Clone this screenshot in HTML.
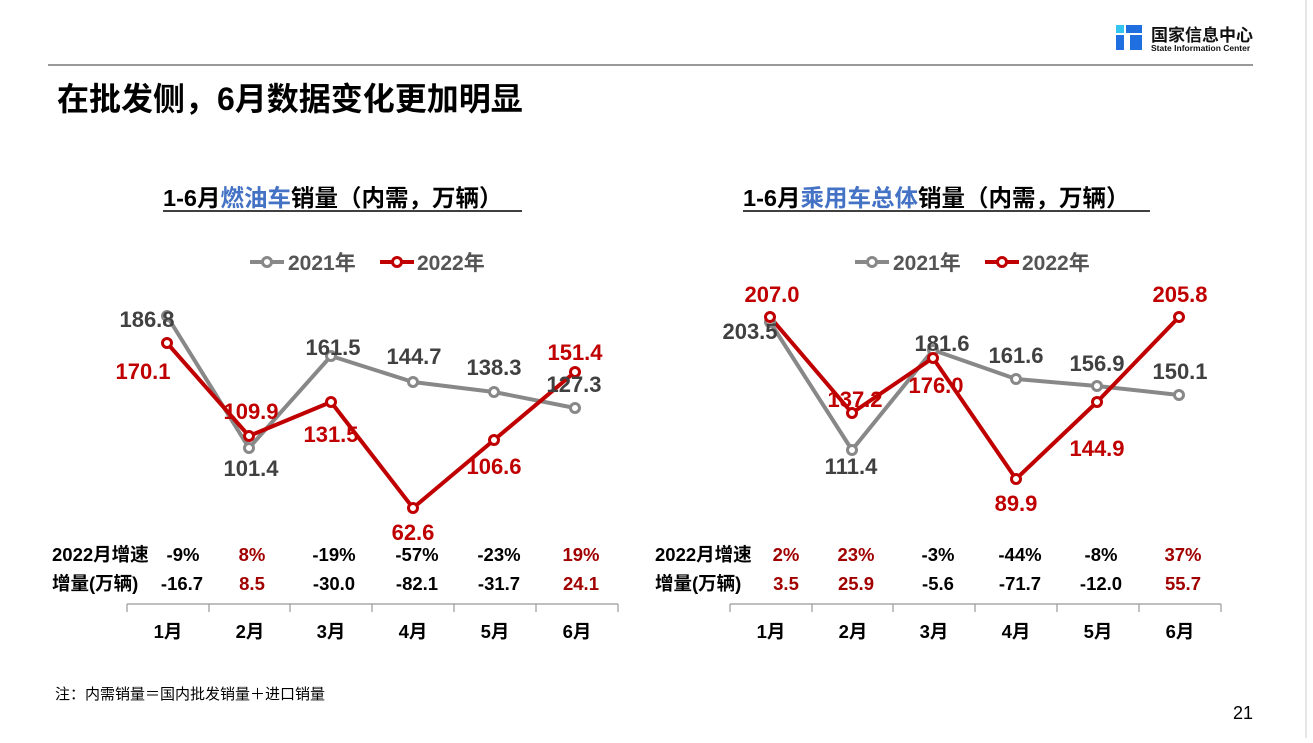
<!DOCTYPE html>
<html><head><meta charset="utf-8"><style>
body{margin:0;width:1313px;height:738px;background:#fff;overflow:hidden;font-family:"Liberation Sans","Noto Sans CJK SC",sans-serif}
svg text{font-family:"Liberation Sans","Noto Sans CJK SC",sans-serif;font-weight:bold}
</style></head><body>
<svg width="1313" height="738" viewBox="0 0 1313 738" xmlns="http://www.w3.org/2000/svg">
<rect x="0" y="0" width="1313" height="738" fill="#fff"/>
<line x1="1306" y1="0" x2="1306" y2="738" stroke="#e6e6e6" stroke-width="2"/>
<!-- logo -->
<rect x="1116" y="25" width="8" height="8" fill="#33c4f0"/>
<rect x="1116" y="35" width="8" height="15" fill="#1f6fe0"/>
<rect x="1126" y="25" width="16" height="8" fill="#1f6fe0"/>
<rect x="1130" y="35" width="12" height="15" fill="#1f6fe0"/>
<text x="1151" y="41" font-size="17" fill="#111">国家信息中心</text>
<text x="1151" y="51" font-size="8.5" fill="#111">State Information Center</text>
<line x1="48" y1="65" x2="1253" y2="65" stroke="#333" stroke-width="1"/>
<text x="57" y="110" font-size="32" fill="#000">在批发侧，6月数据变化更加明显</text>

<text x="163" y="206" font-size="23.5" fill="#000">1-6月<tspan fill="#4472c4">燃油车</tspan>销量（内需，万辆）</text>
<line x1="163" y1="211" x2="522" y2="211" stroke="#000" stroke-width="1.5"/>
<text x="743" y="206" font-size="23.5" fill="#000">1-6月<tspan fill="#4472c4">乘用车总体</tspan>销量（内需，万辆）</text>
<line x1="743" y1="211" x2="1150" y2="211" stroke="#000" stroke-width="1.5"/>

<g stroke-width="4" fill="#fff">
<line x1="250" y1="262" x2="284" y2="262" stroke="#888"/><circle cx="267" cy="262" r="4.5" stroke="#888" stroke-width="3"/>
<line x1="380" y1="262" x2="414" y2="262" stroke="#c00000"/><circle cx="397" cy="262" r="4.5" stroke="#c00000" stroke-width="3"/>
<line x1="855" y1="262" x2="889" y2="262" stroke="#888"/><circle cx="872" cy="262" r="4.5" stroke="#888" stroke-width="3"/>
<line x1="985" y1="262" x2="1019" y2="262" stroke="#c00000"/><circle cx="1002" cy="262" r="4.5" stroke="#c00000" stroke-width="3"/>
</g>
<g font-size="21" fill="#555">
<text x="288" y="270">2021年</text><text x="417" y="270">2022年</text>
<text x="893" y="270">2021年</text><text x="1022" y="270">2022年</text>
</g>

<g fill="none" stroke-width="4" stroke-linejoin="round">
<polyline points="167,316 249,448 331,356 413,382 494,392 575,408" stroke="#888"/>
<polyline points="167,343 249,436 331,402 413,508 494,440 575,372" stroke="#c00000"/>
<polyline points="770,322 852,450 933,350 1016,379 1097,386 1179,395" stroke="#888"/>
<polyline points="770,317 852,413 933,358 1016,479 1097,402 1179,317" stroke="#c00000"/>
</g>
<g fill="#fff" stroke-width="3">
<g stroke="#888">
<circle cx="167" cy="316" r="4.5"/><circle cx="249" cy="448" r="4.5"/><circle cx="331" cy="356" r="4.5"/><circle cx="413" cy="382" r="4.5"/><circle cx="494" cy="392" r="4.5"/><circle cx="575" cy="408" r="4.5"/>
<circle cx="770" cy="322" r="4.5"/><circle cx="852" cy="450" r="4.5"/><circle cx="933" cy="350" r="4.5"/><circle cx="1016" cy="379" r="4.5"/><circle cx="1097" cy="386" r="4.5"/><circle cx="1179" cy="395" r="4.5"/>
</g>
<g stroke="#c00000">
<circle cx="167" cy="343" r="4.5"/><circle cx="249" cy="436" r="4.5"/><circle cx="331" cy="402" r="4.5"/><circle cx="413" cy="508" r="4.5"/><circle cx="494" cy="440" r="4.5"/><circle cx="575" cy="372" r="4.5"/>
<circle cx="770" cy="317" r="4.5"/><circle cx="852" cy="413" r="4.5"/><circle cx="933" cy="358" r="4.5"/><circle cx="1016" cy="479" r="4.5"/><circle cx="1097" cy="402" r="4.5"/><circle cx="1179" cy="317" r="4.5"/>
</g></g>

<g font-size="22" text-anchor="middle" fill="#404040">
<text x="147" y="327">186.8</text><text x="251" y="476">101.4</text><text x="333" y="355">161.5</text><text x="414" y="364">144.7</text><text x="494" y="375">138.3</text><text x="574" y="392">127.3</text>
<text x="750" y="339">203.5</text><text x="851" y="474">111.4</text><text x="942" y="351">181.6</text><text x="1016" y="363">161.6</text><text x="1097" y="371">156.9</text><text x="1180" y="379">150.1</text>
</g>
<g font-size="22" text-anchor="middle" fill="#c00000">
<text x="143" y="379">170.1</text><text x="251" y="419">109.9</text><text x="331" y="442">131.5</text><text x="413" y="540">62.6</text><text x="494" y="474">106.6</text><text x="575" y="360">151.4</text>
<text x="772" y="302">207.0</text><text x="855" y="407">137.2</text><text x="936" y="393">176.0</text><text x="1016" y="511">89.9</text><text x="1097" y="456">144.9</text><text x="1180" y="302">205.8</text>
</g>

<g font-size="18.5" fill="#000">
<text x="52" y="561">2022月增速</text><text x="52" y="590">增量(万辆)</text>
<text x="655" y="561">2022月增速</text><text x="655" y="590">增量(万辆)</text>
</g>
<g font-size="18.5" text-anchor="middle">
<text x="183" y="561" fill="#000">-9%</text><text x="252" y="561" fill="#a00000">8%</text><text x="334" y="561" fill="#000">-19%</text><text x="417" y="561" fill="#000">-57%</text><text x="499" y="561" fill="#000">-23%</text><text x="581" y="561" fill="#a00000">19%</text>
<text x="182" y="590" fill="#000">-16.7</text><text x="252" y="590" fill="#a00000">8.5</text><text x="334" y="590" fill="#000">-30.0</text><text x="417" y="590" fill="#000">-82.1</text><text x="499" y="590" fill="#000">-31.7</text><text x="581" y="590" fill="#a00000">24.1</text>
<text x="786" y="561" fill="#a00000">2%</text><text x="856" y="561" fill="#a00000">23%</text><text x="938" y="561" fill="#000">-3%</text><text x="1020" y="561" fill="#000">-44%</text><text x="1101" y="561" fill="#000">-8%</text><text x="1183" y="561" fill="#a00000">37%</text>
<text x="786" y="590" fill="#a00000">3.5</text><text x="856" y="590" fill="#a00000">25.9</text><text x="938" y="590" fill="#000">-5.6</text><text x="1020" y="590" fill="#000">-71.7</text><text x="1101" y="590" fill="#000">-12.0</text><text x="1183" y="590" fill="#a00000">55.7</text>
</g>

<g stroke="#999" stroke-width="1.2">
<line x1="127" y1="604" x2="618" y2="604"/>
<line x1="127" y1="604" x2="127" y2="612"/><line x1="209" y1="604" x2="209" y2="612"/><line x1="290" y1="604" x2="290" y2="612"/><line x1="372" y1="604" x2="372" y2="612"/><line x1="454" y1="604" x2="454" y2="612"/><line x1="536" y1="604" x2="536" y2="612"/><line x1="618" y1="604" x2="618" y2="612"/>
<line x1="730" y1="604" x2="1221" y2="604"/>
<line x1="730" y1="604" x2="730" y2="612"/><line x1="812" y1="604" x2="812" y2="612"/><line x1="893" y1="604" x2="893" y2="612"/><line x1="975" y1="604" x2="975" y2="612"/><line x1="1057" y1="604" x2="1057" y2="612"/><line x1="1139" y1="604" x2="1139" y2="612"/><line x1="1221" y1="604" x2="1221" y2="612"/>
</g>
<g font-size="18.5" text-anchor="middle" fill="#000">
<text x="168" y="638">1月</text><text x="250" y="638">2月</text><text x="331" y="638">3月</text><text x="413" y="638">4月</text><text x="495" y="638">5月</text><text x="577" y="638">6月</text>
<text x="771" y="638">1月</text><text x="853" y="638">2月</text><text x="934" y="638">3月</text><text x="1016" y="638">4月</text><text x="1098" y="638">5月</text><text x="1180" y="638">6月</text>
</g>

<text x="55" y="699" font-size="15" fill="#000" style="font-weight:normal">注：内需销量＝国内批发销量＋进口销量</text>
<text x="1233" y="719" font-size="18" fill="#000" style="font-weight:normal">21</text>
</svg>
</body></html>
